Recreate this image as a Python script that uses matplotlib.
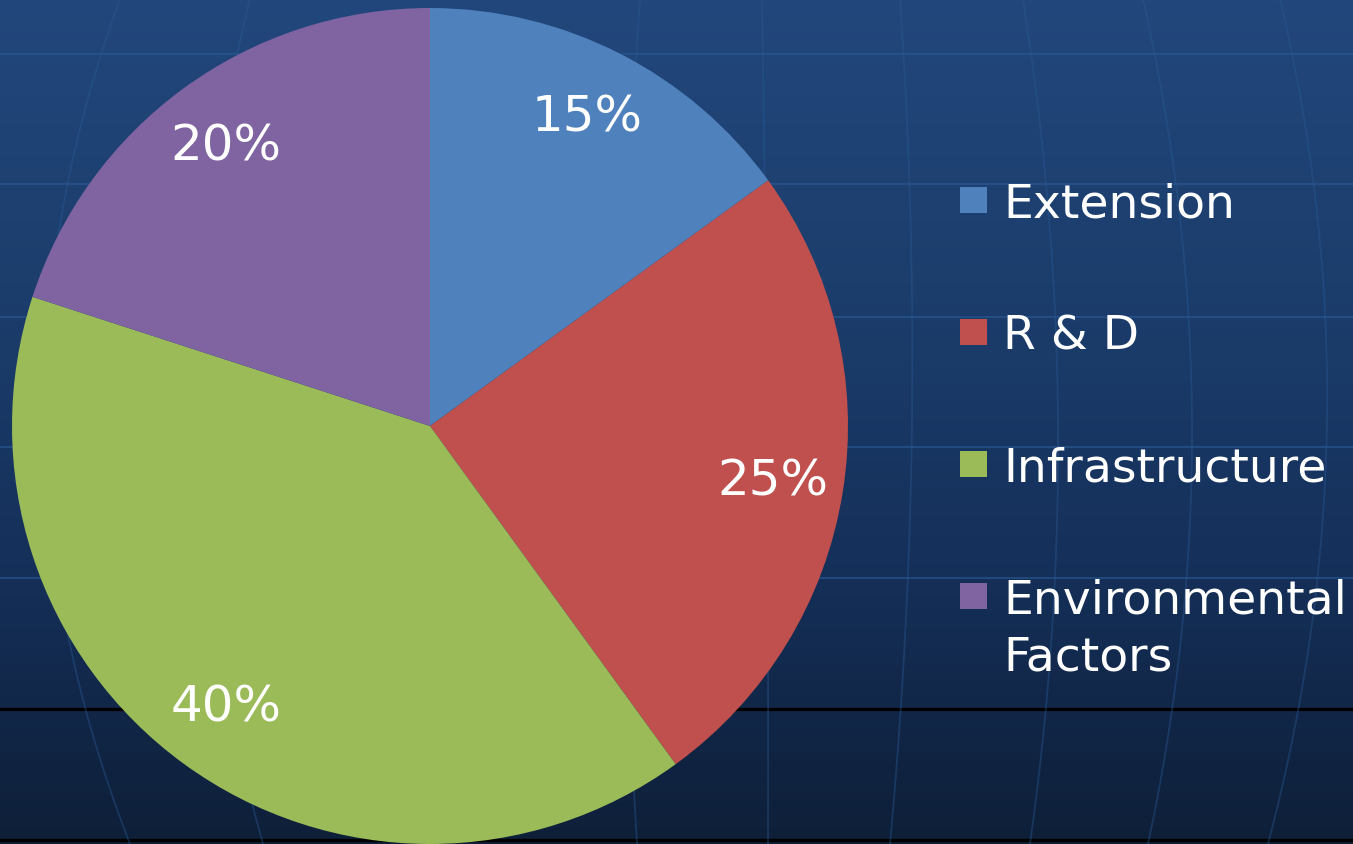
import numpy as np
import matplotlib
matplotlib.use("Agg")
import matplotlib.pyplot as plt
from matplotlib.colors import LinearSegmentedColormap
from matplotlib.patches import Rectangle

# ---- data ----
categories = ["Extension", "R & D", "Infrastructure", "Environmental\nFactors"]
shares = [15, 25, 40, 20]
colors = ["#4f81bd", "#c0504d", "#9bbb59", "#8064a2"]

W, H = 1353, 845
fig = plt.figure(figsize=(W / 100, H / 100), dpi=100)

# ---- background (globe-like grid on dark blue gradient) ----
bg = fig.add_axes([0, 0, 1, 1], zorder=0)
cmap = LinearSegmentedColormap.from_list(
    "bg", ["#22477c", "#1c3e6d", "#15305a", "#0e1f38"])
grad = np.linspace(0, 1, 256).reshape(-1, 1)
bg.imshow(grad, cmap=cmap, aspect="auto", extent=(0, W, H, 0))
bg.set_xlim(0, W)
bg.set_ylim(H, 0)
bg.axis("off")

for yy in [55, 185, 318, 448, 579]:
    bg.axhline(yy, color="#2a5a94", lw=1.5, alpha=0.6)
for yy in [710, 841]:
    bg.axhline(yy, color="#000000", lw=2.4)

meridians = [(120, 45, 130), (250, 200, 263), (640, 625, 637), (762, 767, 768),
             (900, 912, 890), (1023, 1058, 1030), (1143, 1192, 1148),
             (1280, 1327, 1268)]
ys = np.linspace(0, H, 200)
for x0, xm, x1 in meridians:
    coef = np.polyfit([0, H / 2, H], [x0, xm, x1], 2)
    bg.plot(np.polyval(coef, ys), ys, color="#2a5a94", lw=1.3, alpha=0.4)

# ---- pie ----
R = 418
ax = fig.add_axes([(430 - R) / W, (H - 427 - R) / H, 2 * R / W, 2 * R / H], zorder=1)
wedges, texts, autotexts = ax.pie(
    shares, colors=colors, startangle=90, counterclock=False,
    autopct="%d%%", pctdistance=0.83,
    wedgeprops=dict(linewidth=0),
    textprops=dict(color="white", fontsize=36, family="DejaVu Sans"))
ax.set_xlim(-1, 1)
ax.set_ylim(-1, 1)
ax.axis("off")

# ---- legend ----
tops = [188, 320, 452, 584]
line_step = 57
for lab, col, top in zip(categories, colors, tops):
    fig.patches.append(Rectangle((960 / W, 1 - (top + 26) / H), 27 / W, 26 / H,
                                 transform=fig.transFigure, facecolor=col,
                                 edgecolor="none", zorder=3))
    for i, line in enumerate(lab.split("\n")):
        fig.text(1003 / W, 1 - (top + 30 + i * line_step) / H, line,
                 color="white", fontsize=34, family="DejaVu Sans",
                 va="baseline", ha="left", zorder=3)

fig.savefig("out.png", dpi=100)
